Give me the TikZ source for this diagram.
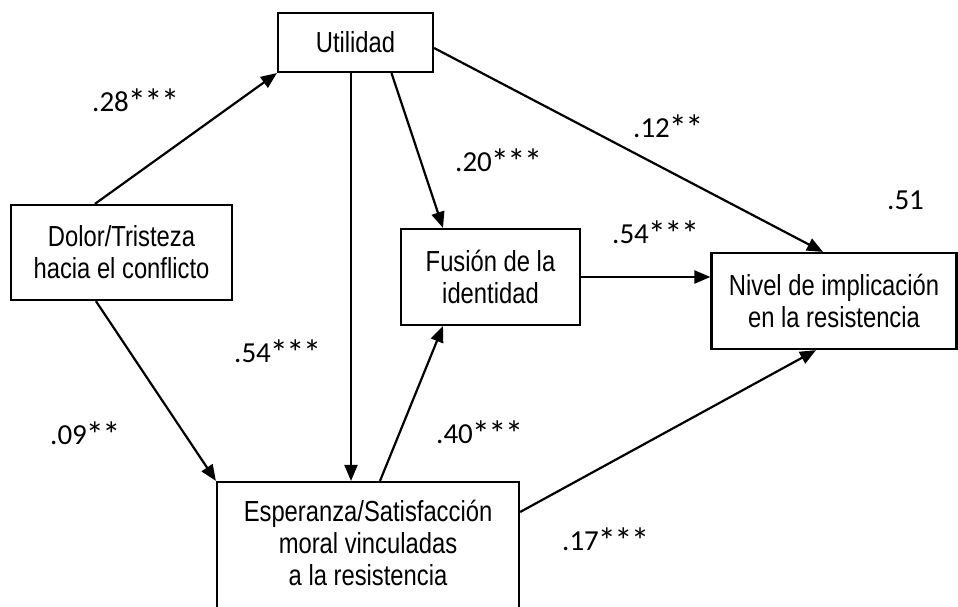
\documentclass[tikz,border=0pt]{standalone}
\usepackage{fontspec}
\usetikzlibrary{arrows.meta,calc}
\newfontfamily\boxfont[FakeStretch=0.82]{Liberation Sans}
\newfontfamily\labfont{Carlito}
\newcommand{\st}{\kern-1pt\raisebox{-3pt}{\scalebox{1.25}{*}}\kern-0.5pt}
\begin{document}
\begin{tikzpicture}[x=1pt,y=-1pt,
  box/.style={draw,line width=2.2pt,rectangle,inner sep=0pt,align=center,
    font=\boxfont\fontsize{29}{32}\selectfont},
  coef/.style={anchor=base west,inner sep=0pt,font=\labfont\fontsize{29}{32}\selectfont},
  arr/.style={line width=2.2pt,-{Triangle[length=16pt,width=13pt]}}]
\useasboundingbox (0,0) rectangle (958,606);
\fill[white] (0,0) rectangle (958,606);
\begin{scope}
\clip (0,0) rectangle (958,606);
\node[box,minimum width=155pt,minimum height=59pt] (util) at (355.5,42.5) {Utilidad};
\node[box,minimum width=221pt,minimum height=95pt] (dolor) at (121.5,252.5) {Dolor/Tristeza\\hacia el conflicto};
\node[box,minimum width=179pt,minimum height=96pt] (fusion) at (490.5,277) {Fusión de la\\identidad};
\node[box,minimum width=245pt,minimum height=96pt] (nivel) at (834,301) {Nivel de implicación\\en la resistencia};
\node[box,minimum width=302pt,minimum height=130pt] (esp) at (368,547) {};
\node[align=center,inner sep=0pt,font=\boxfont\fontsize{29}{32}\selectfont] (esptext) at (368,543) {Esperanza/Satisfacción\\moral vinculadas\\a la resistencia};

\draw[arr] ([xshift=85pt]dolor.north west) -- (util.south west);
\draw[arr] ([xshift=86pt]dolor.south west) -- (esp.north west);
\draw[arr] ([xshift=-4.5pt]util.south) -- ([xshift=-17pt]esp.north);
\draw[arr] ([xshift=36pt]util.south) -- ([xshift=-47.5pt]fusion.north);
\draw[arr] ([yshift=-5.5pt]util.east) -- ([xshift=-11pt]nivel.north);
\draw[arr] ([xshift=12pt]esp.north) -- ([xshift=-47.5pt]fusion.south);
\draw[arr] (fusion.east) -- (nivel.west |- fusion.east);
\draw[arr] ([yshift=35pt]esp.east) -- ([xshift=-18pt]nivel.south);

\node[coef] (c1) at (92,111) {.28\st\st\st};
\node[coef] (c2) at (455,171) {.20\st\st\st};
\node[coef] (c3) at (633,137) {.12\st\st};
\node[coef] (c4) at (887,209) {.51};
\node[coef] (c5) at (612,243) {.54\st\st\st};
\node[coef] (c6) at (234,362) {.54\st\st\st};
\node[coef] (c7) at (50,444) {.09\st\st};
\node[coef] (c8) at (436,443) {.40\st\st\st};
\node[coef] (c9) at (562,550) {.17\st\st\st};
\end{scope}
\end{tikzpicture}
\end{document}
